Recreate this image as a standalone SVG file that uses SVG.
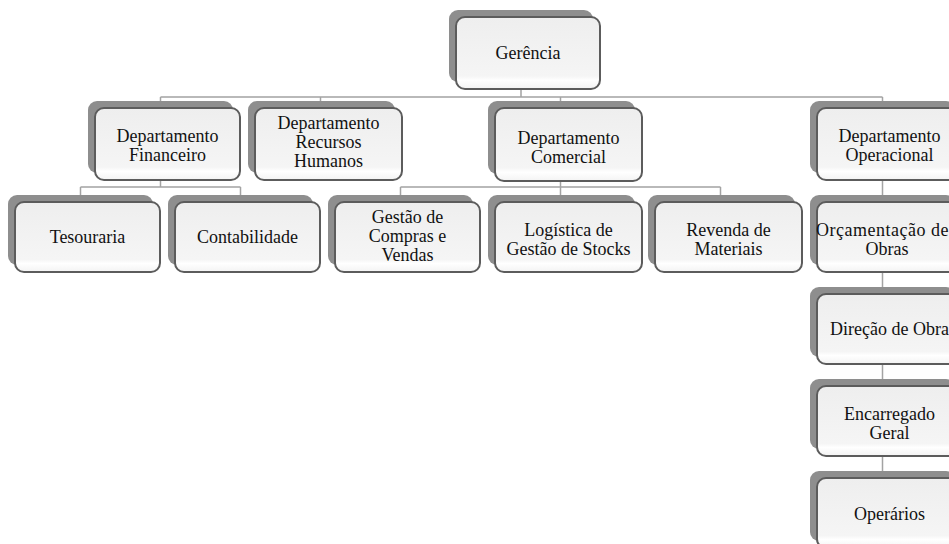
<svg xmlns="http://www.w3.org/2000/svg" width="949" height="544" viewBox="0 0 949 544">
<defs>
<linearGradient id="fillg" x1="0" y1="0" x2="0" y2="1">
<stop offset="0" stop-color="#eeeeee"/>
<stop offset="0.82" stop-color="#f5f5f5"/>
<stop offset="0.88" stop-color="#ffffff"/>
<stop offset="1" stop-color="#f3f3f3"/>
</linearGradient>
</defs>
<style>
.sh{fill:#8e8e8e;}
.bx{fill:url(#fillg);stroke:#5c5c5c;stroke-width:2;}
.t{font-family:"Liberation Serif","Times New Roman",serif;font-size:18px;fill:#111;text-anchor:middle;}
.c{stroke:#a3a3a3;stroke-width:1.5;fill:none;}
</style>
<rect width="949" height="544" fill="#ffffff"/>
<g id="connectors">
<path class="c" d="M521 88V97 M160.5 97H882.5 M160.5 97V106 M320.5 97V106 M560.5 97V106 M882.5 97V106"/>
<path class="c" d="M160.5 180V187 M80.5 187H240.5 M80.5 187V198 M240.5 187V198"/>
<path class="c" d="M560.5 181V187 M400.5 187H720.5 M400.5 187V198 M560.5 187V198 M720.5 187V198"/>
<path class="c" d="M882.5 180V474"/>
</g>
<g id="gerencia"><rect class="sh" x="449" y="10" width="144" height="72" rx="9"/><rect class="bx" x="456" y="17" width="144" height="72" rx="9"/><text class="t" x="528" y="59">Gerência</text></g>
<g id="dep-financeiro"><rect class="sh" x="88" y="101" width="145" height="72" rx="9"/><rect class="bx" x="95" y="108" width="145" height="72" rx="9"/><text class="t" x="167.5" y="142">Departamento</text><text class="t" x="167.5" y="161">Financeiro</text></g>
<g id="dep-rh"><rect class="sh" x="248" y="101" width="147" height="72" rx="9"/><rect class="bx" x="255" y="108" width="147" height="72" rx="9"/><text class="t" x="328.5" y="129">Departamento</text><text class="t" x="328.5" y="148">Recursos</text><text class="t" x="328.5" y="167">Humanos</text></g>
<g id="dep-comercial"><rect class="sh" x="488" y="101" width="147" height="73" rx="9"/><rect class="bx" x="495" y="108" width="147" height="73" rx="9"/><text class="t" x="568.5" y="143.5">Departamento</text><text class="t" x="568.5" y="162.5">Comercial</text></g>
<g id="dep-operacional"><rect class="sh" x="810" y="101" width="145" height="72" rx="9"/><rect class="bx" x="817" y="108" width="145" height="72" rx="9"/><text class="t" x="889.5" y="142">Departamento</text><text class="t" x="889.5" y="161">Operacional</text></g>
<g id="tesouraria"><rect class="sh" x="8" y="195" width="145" height="70" rx="9"/><rect class="bx" x="15" y="202" width="145" height="70" rx="9"/><text class="t" x="87.5" y="243">Tesouraria</text></g>
<g id="contabilidade"><rect class="sh" x="168" y="195" width="145" height="70" rx="9"/><rect class="bx" x="175" y="202" width="145" height="70" rx="9"/><text class="t" x="247.5" y="243">Contabilidade</text></g>
<g id="gestao-compras"><rect class="sh" x="328" y="195" width="145" height="70" rx="9"/><rect class="bx" x="335" y="202" width="145" height="70" rx="9"/><text class="t" x="407.5" y="223">Gestão de</text><text class="t" x="407.5" y="242">Compras e</text><text class="t" x="407.5" y="261">Vendas</text></g>
<g id="logistica"><rect class="sh" x="488" y="195" width="147" height="70" rx="9"/><rect class="bx" x="495" y="202" width="147" height="70" rx="9"/><text class="t" x="568.5" y="236">Logística de</text><text class="t" x="568.5" y="255">Gestão de Stocks</text></g>
<g id="revenda"><rect class="sh" x="648" y="195" width="147" height="70" rx="9"/><rect class="bx" x="655" y="202" width="147" height="70" rx="9"/><text class="t" x="728.5" y="236">Revenda de</text><text class="t" x="728.5" y="255">Materiais</text></g>
<g id="orcamentacao"><rect class="sh" x="810" y="195" width="145" height="70" rx="9"/><rect class="bx" x="817" y="202" width="145" height="70" rx="9"/><text class="t" x="816" y="236" style="text-anchor:start;letter-spacing:0.5px">Orçamentação de</text><text class="t" x="887" y="255">Obras</text></g>
<g id="direcao"><rect class="sh" x="810" y="287" width="145" height="70" rx="9"/><rect class="bx" x="817" y="294" width="145" height="70" rx="9"/><text class="t" x="889.5" y="335">Direção de Obra</text></g>
<g id="encarregado"><rect class="sh" x="810" y="379" width="145" height="70" rx="9"/><rect class="bx" x="817" y="386" width="145" height="70" rx="9"/><text class="t" x="889.5" y="420">Encarregado</text><text class="t" x="889.5" y="439">Geral</text></g>
<g id="operarios"><rect class="sh" x="810" y="471" width="145" height="70" rx="9"/><rect class="bx" x="817" y="478" width="145" height="70" rx="9"/><text class="t" x="889.5" y="520">Operários</text></g>
</svg>
